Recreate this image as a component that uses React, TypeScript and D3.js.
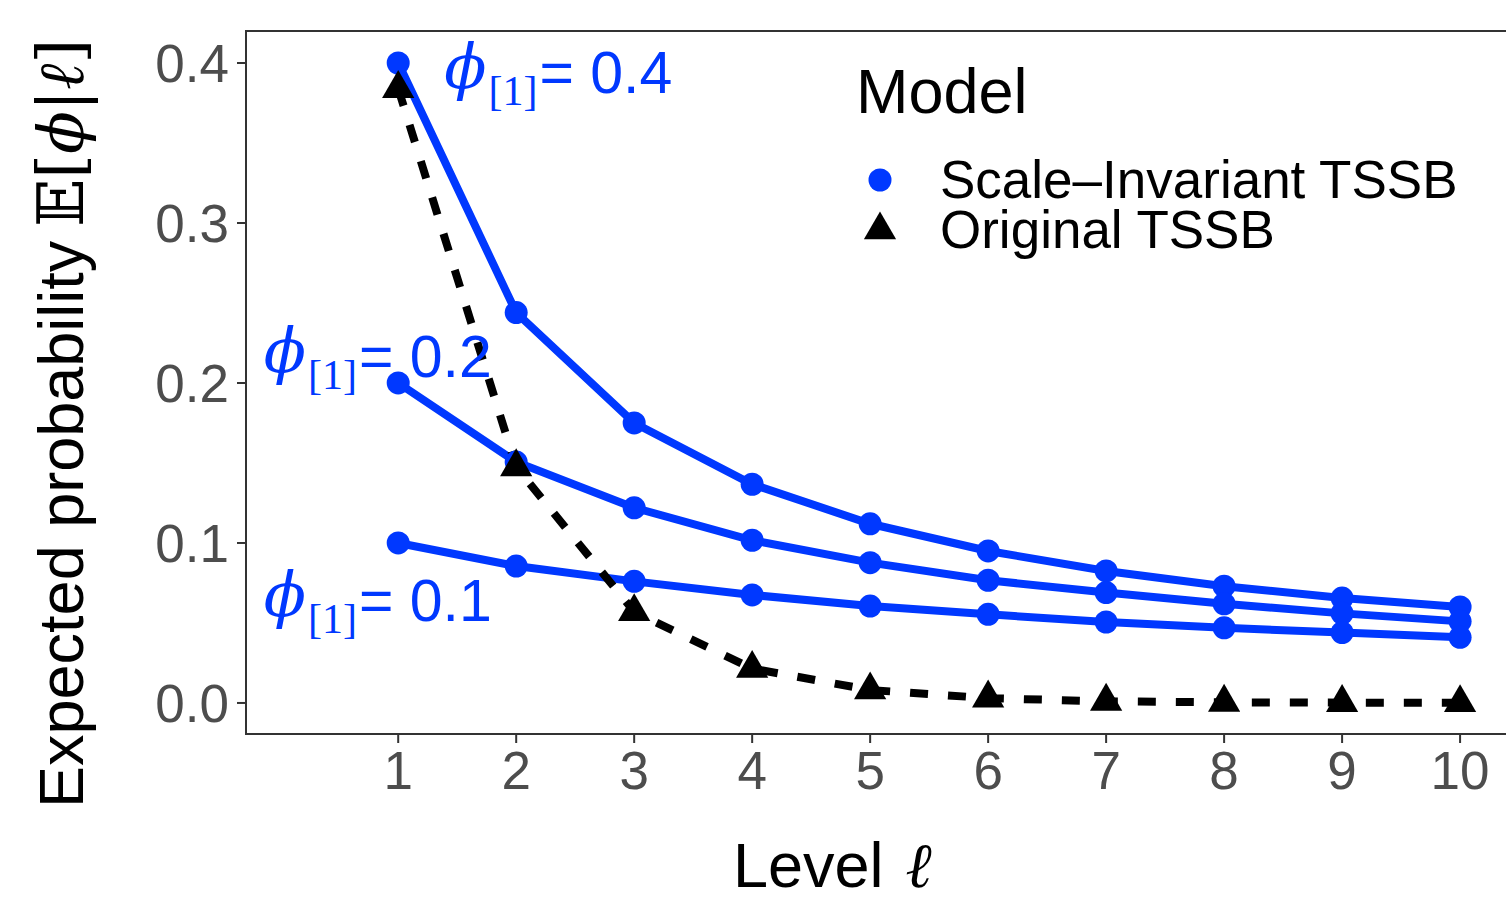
import React from "react";
import * as d3 from "d3";

// values
const levels = [1, 2, 3, 4, 5, 6, 7, 8, 9, 10];
const phi04 = [0.4, 0.244, 0.175, 0.1367, 0.112, 0.095, 0.0825, 0.073, 0.0656, 0.06];
const phi02 = [0.2, 0.1506, 0.122, 0.1017, 0.0877, 0.0767, 0.069, 0.062, 0.056, 0.051];
const phi01 = [0.1, 0.0856, 0.076, 0.0675, 0.0606, 0.0554, 0.0506, 0.047, 0.044, 0.041];
const original = [0.384, 0.1475, 0.057, 0.0215, 0.0081, 0.003, 0.001, 0.0004, 0.0002, 0.0001];
const yTicks = [0, 0.1, 0.2, 0.3, 0.4];

// annotation positions (data coords: level, value at baseline) and labels
const annoLevel = [1.39, -0.14, -0.14];
const annoValue = [0.381, 0.204, 0.051];
const annoText = ["= 0.4", "= 0.2", "= 0.1"];

const legendLabels = ["Scale\u2013Invariant TSSB", "Original TSSB"];

const BLUE = "#0038ff";
const SANS = "'Liberation Sans', Arial, Helvetica, sans-serif";
const SERIF = "'DejaVu Serif', 'Liberation Serif', serif";
const TIMES = "'Liberation Serif', 'DejaVu Serif', serif";

export default function App() {
  const width = 1506;
  const height = 900;
  const left = 246, right = 1520, top = 31, bottom = 734;

  const x = d3.scaleLinear().domain([-0.29, 10.44]).range([left, 1512]);
  const y = d3.scaleLinear().domain([-0.0194, 0.42]).range([bottom, top]);

  const line = d3
    .line<number>()
    .x((_, i) => x(levels[i]))
    .y((d) => y(d));

  const blueSeries = [phi04, phi02, phi01];
  const tri = d3.symbol(d3.symbolTriangle, 450)();

  return (
    <svg
      width={width}
      height={height}
      style={{ position: "absolute", left: 0, top: 0, display: "block" }}
    >
      <rect width={width} height={height} fill="#fff" />

      {/* y ticks */}
      {yTicks.map((t) => (
        <g key={t}>
          <line x1={left - 9} x2={left} y1={y(t)} y2={y(t)} stroke="#333" strokeWidth={2} />
          <text
            x={left - 17}
            y={y(t)}
            dy="0.36em"
            textAnchor="end"
            fontFamily={SANS}
            fontSize={53}
            fill="#4d4d4d"
          >
            {t.toFixed(1)}
          </text>
        </g>
      ))}

      {/* x ticks */}
      {levels.map((l) => (
        <g key={l}>
          <line x1={x(l)} x2={x(l)} y1={bottom} y2={bottom + 9} stroke="#333" strokeWidth={2} />
          <text
            x={x(l)}
            y={bottom + 55}
            textAnchor="middle"
            fontFamily={SANS}
            fontSize={53}
            fill="#4d4d4d"
          >
            {l}
          </text>
        </g>
      ))}

      {/* lines */}
      {blueSeries.map((s, i) => (
        <path key={i} d={line(s) || ""} fill="none" stroke={BLUE} strokeWidth={8} />
      ))}
      <path
        d={line(original) || ""}
        fill="none"
        stroke="#000"
        strokeWidth={8}
        strokeDasharray="18 20"
      />

      {/* points */}
      {blueSeries.map((s, i) =>
        s.map((v, j) => <circle key={`${i}-${j}`} cx={x(levels[j])} cy={y(v)} r={11.5} fill={BLUE} />)
      )}
      {original.map((v, j) => (
        <path key={j} d={tri || ""} transform={`translate(${x(levels[j])},${y(v)})`} fill="#000" />
      ))}

      {/* annotations */}
      {annoText.map((t, i) => (
        <text key={i} x={x(annoLevel[i])} y={y(annoValue[i])} fill={BLUE}>
          <tspan fontFamily={SERIF} fontStyle="italic" fontSize={62} dy={-5}>
            {"\u03D5"}
          </tspan>
          <tspan fontFamily={TIMES} fontSize={42} dy={17} dx={2}>
            [1]
          </tspan>
          <tspan fontFamily={SANS} fontSize={59} dy={-12} dx={2}>
            {t}
          </tspan>
        </text>
      ))}

      {/* panel border */}
      <rect
        x={left}
        y={top}
        width={right - left}
        height={bottom - top}
        fill="none"
        stroke="#333"
        strokeWidth={2}
      />

      {/* legend */}
      <text x={856} y={113} fontFamily={SANS} fontSize={63} fill="#000">
        Model
      </text>
      <circle cx={880} cy={180} r={11.5} fill={BLUE} />
      <path d={tri || ""} transform="translate(880,230)" fill="#000" />
      {legendLabels.map((l, i) => (
        <text key={l} x={940} y={198 + i * 50} fontFamily={SANS} fontSize={53} fill="#000">
          {l}
        </text>
      ))}

      {/* axis titles */}
      <text x={733} y={887} fontFamily={SANS} fontSize={63} fill="#000">
        Level
        <tspan fontFamily={SERIF} fontStyle="italic" dx={22}>
          {"\u2113"}
        </tspan>
      </text>
      <text
        transform="translate(83,808) rotate(-90)"
        fontFamily={SANS}
        fontSize={63}
        fill="#000"
      >
        Expected probability
        <tspan fontFamily={SERIF} dx={14}>
          {"\u{1D53C}"}
        </tspan>
        <tspan fontFamily={SERIF}>[</tspan>
        <tspan fontFamily={SERIF} fontStyle="italic">
          {"\u03D5"}
        </tspan>
        <tspan fontFamily={SERIF}>|</tspan>
        <tspan fontFamily={SERIF} fontStyle="italic">
          {"\u2113"}
        </tspan>
        <tspan fontFamily={SERIF}>]</tspan>
      </text>
    </svg>
  );
}
